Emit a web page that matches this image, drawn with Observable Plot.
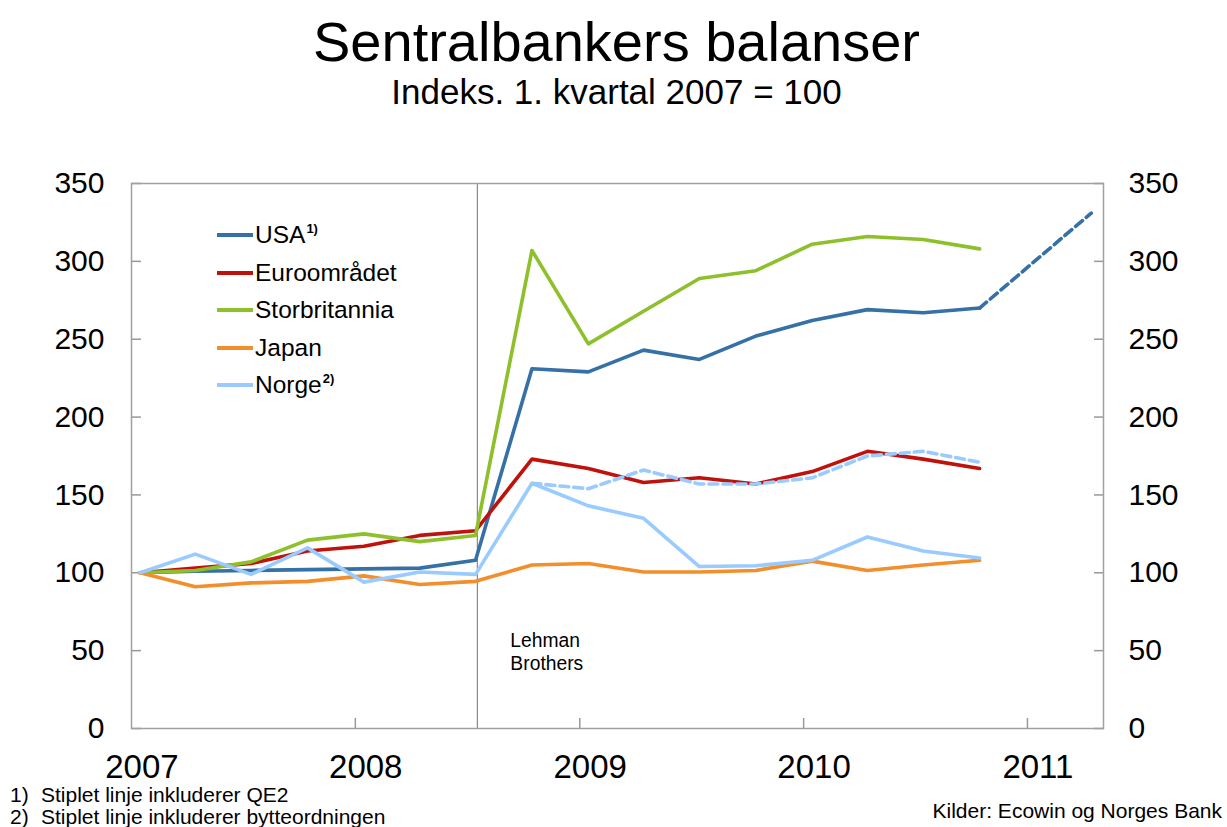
<!DOCTYPE html>
<html>
<head>
<meta charset="utf-8">
<script src="https://cdn.jsdelivr.net/npm/d3@7"></script>
<script src="https://cdn.jsdelivr.net/npm/@observablehq/plot@0.6"></script>
<style>
  body { margin: 0; background: #fff; font-family: "Liberation Sans", Arial, sans-serif; color: #000; }
  #wrap { position: relative; width: 1227px; height: 827px; overflow: hidden; background: #fff; }
  .abs { position: absolute; white-space: nowrap; line-height: 1; }
  #title { left: 3px; width: 1227px; text-align: center; top: 14px; font-size: 56px; }
  #subtitle { left: 3px; width: 1227px; text-align: center; top: 74px; font-size: 35px; }
  #chart { position: absolute; left: 0; top: 130px; }
  .sw { position: absolute; width: 36px; height: 4px; }
  .lg { position: absolute; font-size: 24.5px; line-height: 1; white-space: nowrap; }
  .lg sup { font-size: 13px; font-weight: bold; vertical-align: 0; position: relative; top: -10px; margin-left: 1px; }
  .fn { position: absolute; font-size: 21px; line-height: 21px; white-space: nowrap; }
</style>
</head>
<body>
<div id="wrap">
  <div id="title" class="abs">Sentralbankers balanser</div>
  <div id="subtitle" class="abs">Indeks. 1. kvartal 2007 = 100</div>
  <div id="chart"></div>
  <div id="legend"></div>
  <div class="fn" style="left:10px;top:784px">1)</div>
  <div class="fn" style="left:41px;top:784px">Stiplet linje inkluderer QE2</div>
  <div class="fn" style="left:10px;top:806px">2)</div>
  <div class="fn" style="left:41px;top:806px">Stiplet linje inkluderer bytteordningen</div>
  <div class="fn" style="right:5px;top:800px">Kilder: Ecowin og Norges Bank</div>
</div>
<script>
// ---- Data ----
const quarters = [
  "2007-01-15","2007-04-15","2007-07-15","2007-10-15",
  "2008-01-15","2008-04-15","2008-07-15","2008-10-15",
  "2009-01-15","2009-04-15","2009-07-15","2009-10-15",
  "2010-01-15","2010-04-15","2010-07-15","2010-10-15"
];
const seriesNames = ["USA", "Euroområdet", "Storbritannia", "Japan", "Norge"];
const legendSup = ["1)", "", "", "", "2)"];
const usa   = [100, 101, 101.5, 102, 102.5, 103, 108, 231, 229, 243, 237, 252, 262, 269, 267, 270];
const euro  = [100, 103, 106, 114, 117, 124, 127, 173, 167, 158, 161, 157, 165, 178, 173, 167];
const uk    = [100, 101.5, 107, 121, 125, 120, 124, 307, 247, 268, 289, 294, 311, 316, 314, 308];
const japan = [100, 91, 93.5, 94.5, 98, 92.5, 94.5, 105, 106, 100.5, 100.5, 101.5, 107.5, 101.5, 105, 108];
const norge = [100, 112, 99, 116, 94, 100.5, 99, 157.5, 143, 135, 104, 104.5, 108, 123, 114, 109.5];
// Dashed: USA incl. QE2
const usaQE2Quarters = ["2010-10-15", "2011-04-15"];
const usaQE2 = [270, 331];
// Dashed: Norge incl. swap arrangement
const norgeSwapQuarters = ["2008-10-15","2009-01-15","2009-04-15","2009-07-15","2009-10-15","2010-01-15","2010-04-15","2010-07-15","2010-10-15"];
const norgeSwap = [157.5, 154, 166, 157, 157, 161, 175, 178, 171];

const yTicks = [0, 50, 100, 150, 200, 250, 300, 350];
const yearTickDates = ["2008-01-01", "2009-01-01", "2010-01-01", "2011-01-01"];
const yearLabelDates = ["2007-01-18", "2008-01-18", "2009-01-18", "2010-01-18", "2011-01-18"];
const xDomain = ["2007-01-01", "2011-05-05"];
const lehmanDate = "2008-07-18";
const lehmanLabel = "Lehman\nBrothers";

// ---- Styles ----
const colors = ["#3570a6", "#c0120c", "#8dc02b", "#f28e2c", "#9acbff"];

// ---- Build ----
const parse = d3.utcParse("%Y-%m-%d");
const valuesBySeries = [usa, euro, uk, japan, norge];
const rows = [];
seriesNames.forEach((name, i) => {
  valuesBySeries[i].forEach((v, j) => rows.push({series: name, date: parse(quarters[j]), value: v}));
});
const usaDash = usaQE2.map((v, j) => ({date: parse(usaQE2Quarters[j]), value: v}));
const norgeDash = norgeSwap.map((v, j) => ({date: parse(norgeSwapQuarters[j]), value: v}));

const chart = Plot.plot({
  width: 1227,
  height: 697,
  marginTop: 53,
  marginBottom: 99,
  marginLeft: 131,
  marginRight: 124,
  style: {fontFamily: "'Liberation Sans', Arial, sans-serif", background: "white", color: "#000", overflow: "visible"},
  x: {type: "utc", domain: xDomain.map(parse)},
  y: {domain: [0, 350]},
  color: {domain: seriesNames, range: colors},
  marks: [
    Plot.axisY({ticks: yTicks, anchor: "left", tickSize: -10, tickPadding: 37, stroke: "#999", strokeWidth: 1.5, fontSize: 30, label: null}),
    Plot.axisY({ticks: yTicks, anchor: "right", tickSize: -10, tickPadding: 35, stroke: "#999", strokeWidth: 1.5, fontSize: 30, label: null}),
    Plot.axisX({ticks: yearTickDates.map(parse), anchor: "bottom", tickSize: -10, stroke: "#999", strokeWidth: 1.5, tickFormat: () => "", label: null}),
    Plot.axisX({ticks: yearLabelDates.map(parse), anchor: "bottom", tickSize: 0, tickPadding: 26, tickFormat: d3.utcFormat("%Y"), fontSize: 33, label: null}),
    Plot.ruleX([parse(lehmanDate)], {stroke: "#8a8a8a", strokeWidth: 1.2}),
    Plot.text([lehmanLabel], {x: () => parse(lehmanDate), y: () => 49.5, text: d => d, textAnchor: "start", lineAnchor: "middle", dx: 33, fontSize: 19.3, lineHeight: 1.2, fill: "#000"}),
    Plot.line(rows, {x: "date", y: "value", z: "series", stroke: "series", strokeWidth: 3.6, strokeLinejoin: "round"}),
    Plot.line(usaDash, {x: "date", y: "value", stroke: colors[0], strokeWidth: 3.6, strokeDasharray: "9,5"}),
    Plot.line(norgeDash, {x: "date", y: "value", stroke: colors[4], strokeWidth: 3.6, strokeDasharray: "9,5"}),
    Plot.frame({stroke: "#a0a0a0", strokeWidth: 1.5})
  ]
});
document.getElementById("chart").appendChild(chart);

// ---- Legend (HTML overlay) ----
const legend = document.getElementById("legend");
const rowCenters0 = 235, rowStep = 37.6;
seriesNames.forEach((name, i) => {
  const cy = rowCenters0 + i * rowStep;
  const sw = document.createElement("div");
  sw.className = "sw";
  sw.style.left = "217px";
  sw.style.top = (cy - 2) + "px";
  sw.style.background = colors[i];
  legend.appendChild(sw);
  const t = document.createElement("div");
  t.className = "lg";
  t.style.left = "255px";
  t.style.top = (cy - 12) + "px";
  t.textContent = name;
  if (legendSup[i]) {
    const s = document.createElement("sup");
    s.textContent = legendSup[i];
    t.appendChild(s);
  }
  legend.appendChild(t);
});
</script>
</body>
</html>
